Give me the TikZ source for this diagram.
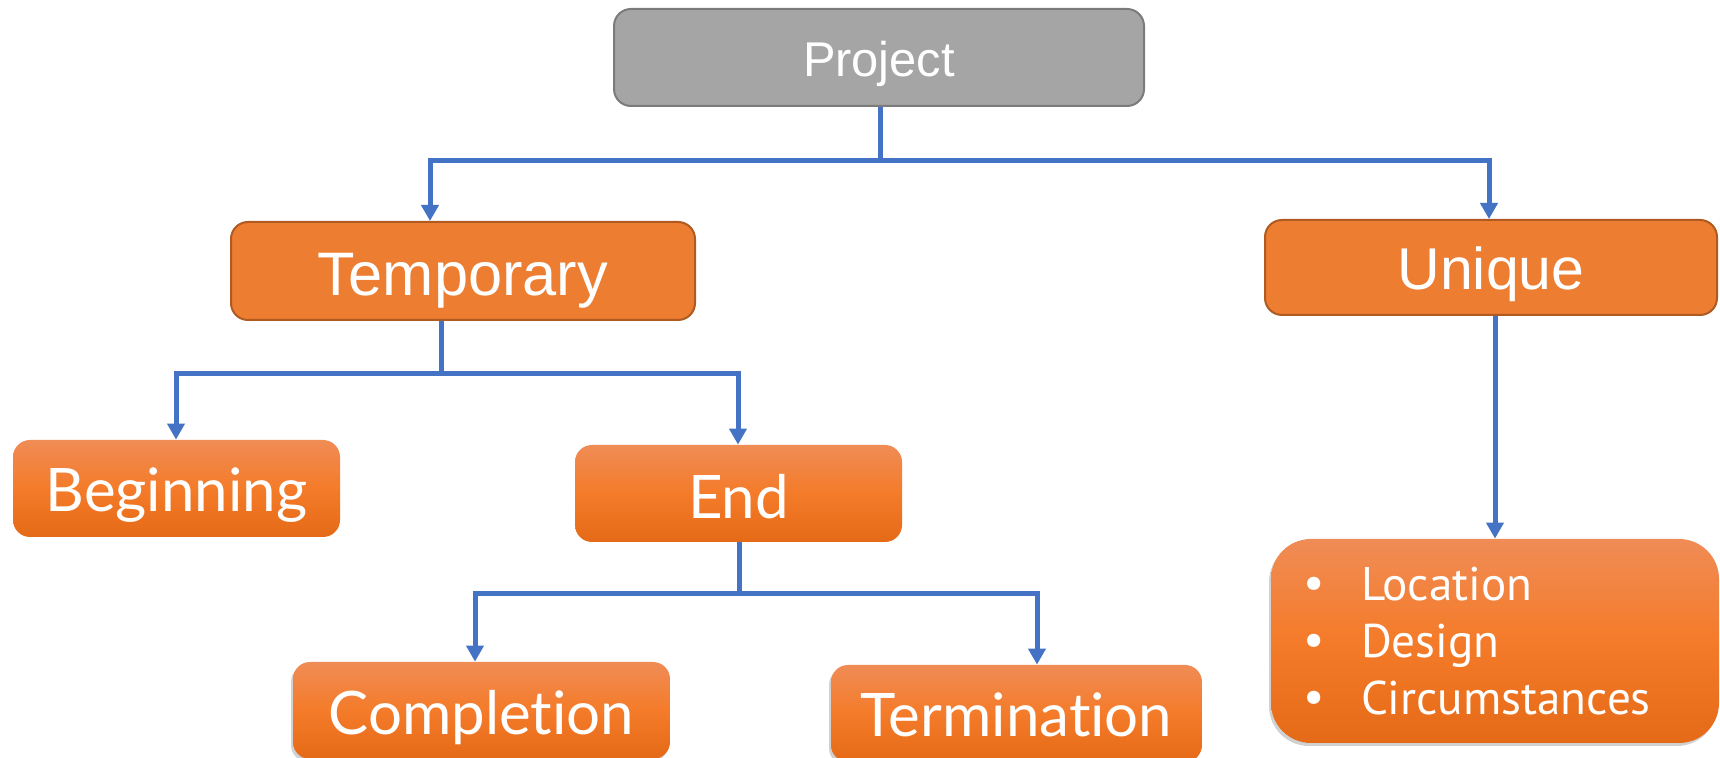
\documentclass[tikz,border=0pt]{standalone}
\usepackage{fontspec}
\setmainfont{Liberation Sans}
\newfontfamily\segoe[Ligatures={NoCommon,NoRequired,NoContextual}]{Lato}
\newfontfamily\frank{PT Sans}
\usetikzlibrary{arrows.meta,shadows}
\definecolor{projfill}{HTML}{A5A5A5}
\definecolor{projedge}{HTML}{7B7B7B}
\definecolor{orfill}{HTML}{ED7D31}
\definecolor{oredge}{HTML}{AE5A21}
\definecolor{gtop}{HTML}{F08C56}
\definecolor{gmid}{HTML}{F47B29}
\definecolor{gbot}{HTML}{E56A18}
\definecolor{connblue}{HTML}{4472C4}
\begin{document}
\begin{tikzpicture}[x=0.5pt,y=-0.5pt,
  box/.style={rounded corners=8.5pt, inner sep=0pt, text=white, align=center},
  gray box/.style={box, fill=projfill, draw=projedge, line width=1pt},
  solid box/.style={box, fill=orfill, draw=oredge, line width=1pt},
  grad box/.style={box, top color=gtop, bottom color=gbot, middle color=gmid},
  shadowed/.style={drop shadow={shadow xshift=-1pt, shadow yshift=-1.5pt, opacity=0.18, fill=black}},
  link/.style={draw=connblue, line width=2.5pt, line join=miter},
  arrowlink/.style={link, -{Triangle[width=8.5pt,length=8pt]}},
  bigtext/.style={font=\fontsize{30.7}{36}\selectfont},
  segtext/.style={font=\segoe\fontsize{30}{36}\selectfont},
]
\path[fill=white] (0,0) rectangle (1720,758);
\useasboundingbox (0,0) rectangle (1720,758);

% nodes
\node[gray box, minimum width=265pt, minimum height=48.5pt, font=\fontsize{24.4}{29}\selectfont, text height=19.5pt, text depth=0pt] (proj) at (879,57.5) {Project};
\node[solid box, minimum width=232pt, minimum height=49pt, bigtext, text height=25pt, text depth=0pt] (temp) at (463,271) {Temporary};
\node[solid box, minimum width=226pt, minimum height=47.5pt, font=\fontsize{29.5}{35}\selectfont, text height=22.5pt, text depth=0pt] (uniq) at (1491,267.5) {Unique};
\node[grad box, minimum width=163.5pt, minimum height=48.5pt, segtext, text height=23.5pt, text depth=0pt] (begin) at (176.5,488.5) {Beginning};
\node[grad box, minimum width=163.5pt, minimum height=48.5pt, segtext, text height=25.5pt, text depth=0pt] (endn) at (738.5,493.5) {End};
\node[grad box, shadowed, minimum width=188.5pt, minimum height=48.5pt, segtext, text height=24.5pt, text depth=0pt] (compl) at (481.5,710.5) {Completion};
\node[grad box, shadowed, minimum width=185.5pt, minimum height=48.5pt, segtext, text height=23.5pt, text depth=0pt] (term) at (1016.5,713.5) {Termination};
\node[grad box, shadowed, rounded corners=20pt, minimum width=224pt, minimum height=102pt, text width=192pt, inner xsep=16pt, align=left, font=\frank\fontsize{23.6}{28.5}\selectfont] (feat) at (1495,641)
  {\makebox[29pt][l]{\raisebox{1pt}{\textbullet}}Location\\
   \makebox[29pt][l]{\raisebox{1pt}{\textbullet}}Design\\
   \makebox[29pt][l]{\raisebox{1pt}{\textbullet}}Circumstances};

% bar coordinates
\coordinate (pl) at (430,161);
\coordinate (pr) at (1489,161);
\coordinate (pm) at (880,161);
\coordinate (tl) at (176,374);
\coordinate (tr) at (738,374);
\coordinate (tm) at (441,374);
\coordinate (el) at (475,594);
\coordinate (er) at (1037,594);
\coordinate (em) at (739,594);

% Project connectors
\draw[link] (proj.south -| pm) -- (pm);
\draw[arrowlink] (pr) -- (pl) -- (pl |- temp.north);
\draw[arrowlink] (pl) -- (pr) -- (pr |- uniq.north);

% Temporary connectors
\draw[link] (temp.south -| tm) -- (tm);
\draw[arrowlink] (tr) -- (tl) -- (tl |- begin.north);
\draw[arrowlink] (tl) -- (tr) -- (tr |- endn.north);

% End connectors
\draw[link] (endn.south -| em) -- (em);
\draw[arrowlink] (er) -- (el) -- (el |- compl.north);
\draw[arrowlink] (el) -- (er) -- (er |- term.north);

% Unique connector
\draw[arrowlink] (uniq.south -| feat.north) -- (feat.north);
\end{tikzpicture}
\end{document}
